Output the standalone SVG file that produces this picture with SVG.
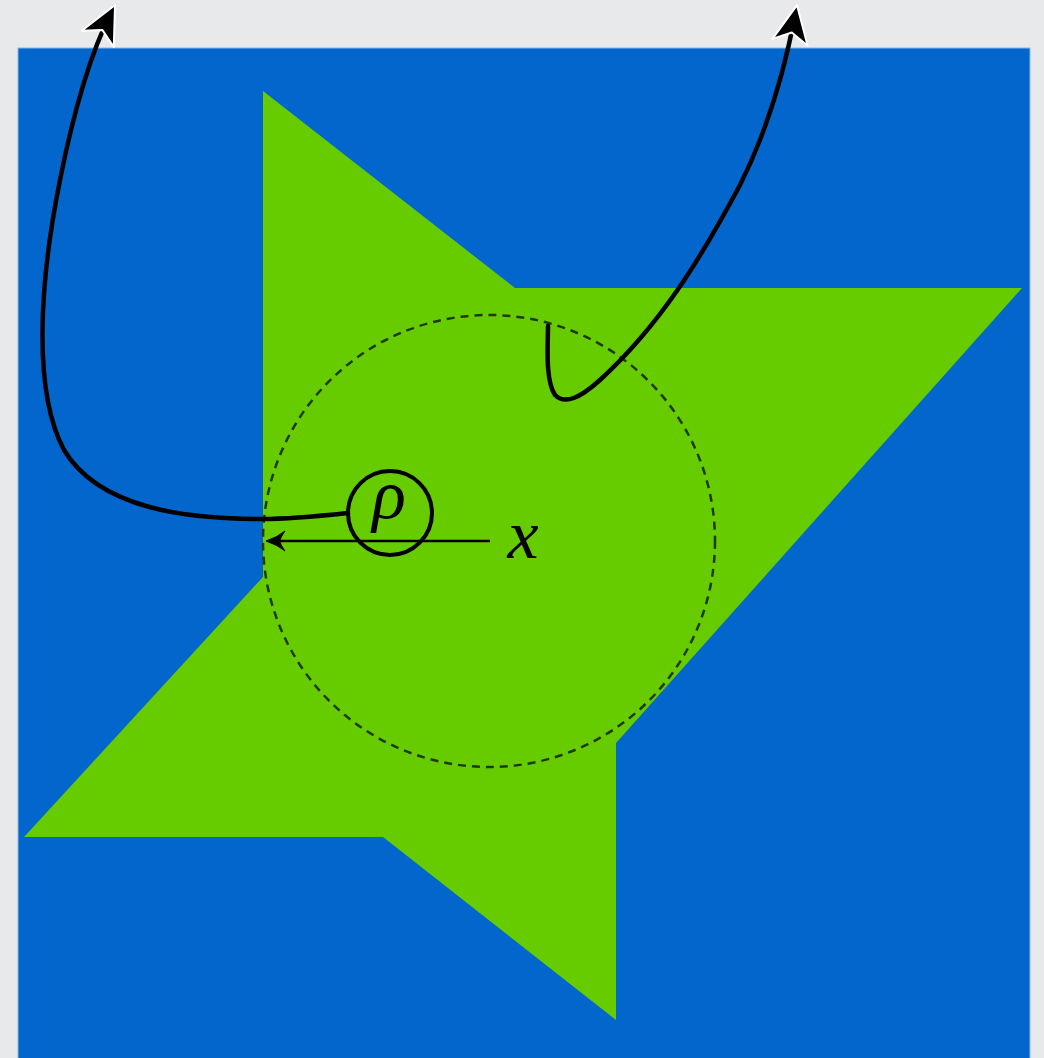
<svg xmlns="http://www.w3.org/2000/svg" width="1044" height="1058" viewBox="0 0 1044 1058">
<style>
.curve{fill:none;stroke:#000;stroke-width:4.5;stroke-linecap:round}
.math{font-family:"Liberation Serif","DejaVu Serif",serif;font-style:italic;fill:#000}
</style>
<defs>
<marker id="big" markerUnits="userSpaceOnUse" viewBox="-3 -3 46 46" markerWidth="46" markerHeight="46" refX="30" refY="18" orient="auto">
<path d="M38 18 L0 0 L10 18 L0 36 Z" fill="#000" stroke="#fff" stroke-width="2" stroke-linejoin="round"/>
</marker>
<marker id="small" markerUnits="userSpaceOnUse" viewBox="0 0 26 26" markerWidth="26" markerHeight="26" refX="20" refY="13" orient="auto">
<path d="M23 13 Q11 9 4 3 Q9 10 9 13 Q9 16 4 23 Q11 17 23 13 Z" fill="#000" stroke="#000" stroke-width="1"/>
</marker>
</defs>
<rect x="0" y="0" width="1044" height="1058" fill="#e8e9eb"/>
<g id="domain">
<rect x="18" y="48" width="1012" height="1012" fill="#0366cc" stroke="#8fb6e6" stroke-width="1"/>
<polygon points="263,91 515,288 1022,288 616,743 616,1020 383,837 24,837 263,577" fill="#66cc00"/>
</g>
<g id="ball">
<circle cx="489" cy="541" r="226" fill="none" stroke="#1f3a08" stroke-width="2.5" stroke-dasharray="8 6"/>
</g>
<g id="rho">
<circle cx="390" cy="513" r="42" fill="none" stroke="#000" stroke-width="4"/>
<text class="math" x="389" y="518" font-size="70" text-anchor="middle">ρ</text>
</g>
<g id="xlabel">
<text class="math" x="523" y="558" font-size="70" text-anchor="middle">x</text>
</g>
<g id="connectors">
<line x1="490" y1="541" x2="269" y2="541" stroke="#000" stroke-width="2.5" marker-end="url(#small)"/>
<path class="curve" d="M348 513 C320 516 290 519 262 519 C190 519 100 510 64 450 C32 390 40 280 60 180 C72 120 90 54 111.4 12.1" marker-end="url(#big)"/>
<path class="curve" d="M548 326 C548 345 545 380 555 395 C565 405 580 398 600 380 C660 325 700 260 740 185 C765 135 784 74 795.5 12.9" marker-end="url(#big)"/>
</g>
</svg>
